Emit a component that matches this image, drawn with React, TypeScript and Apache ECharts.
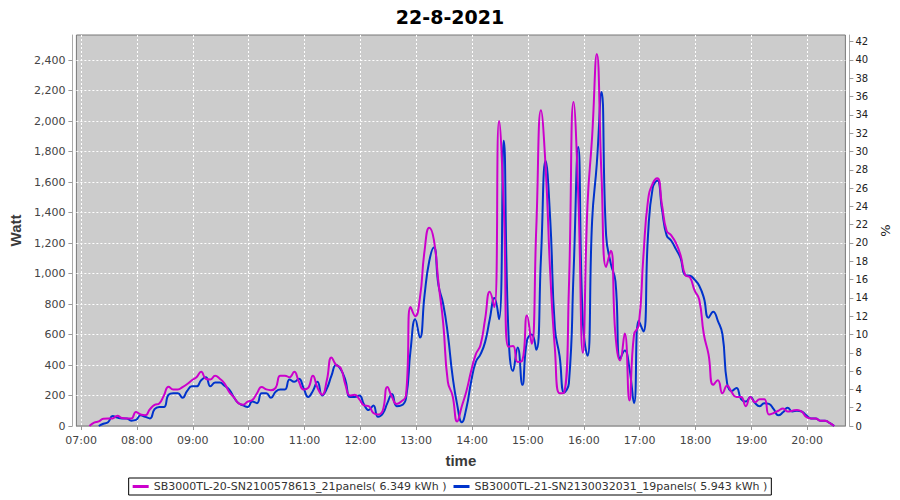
import React, { useEffect, useRef } from "react";
import * as echarts from "echarts";

// Sampling: one reading every 5 minutes, first reading at 07:09
const SAMPLE_START_MIN = 7 * 60 + 9;
const SAMPLE_STEP_MIN = 5;

const SERIES_A_NAME = "SB3000TL-20-SN2100578613_21panels( 6.349 kWh )";
const SERIES_B_NAME = "SB3000TL-21-SN2130032031_19panels( 5.943 kWh )";

// Watt, magenta inverter (rows = hours; 07 row starts 07:09, others start hh:04)
const MAGENTA_W = [
  0, 22, 30, 48, 50, 50, 68, 52, 50, 50, 92,
  75, 70, 110, 138, 148, 200, 258, 240, 240, 255, 275, 300,
  320, 355, 310, 305, 330, 310, 280, 225, 190, 150, 140, 160,
  170, 215, 255, 240, 235, 250, 330, 330, 320, 355, 290, 240,
  250, 330, 250, 205, 300, 450, 400, 380, 270, 200, 205, 175,
  135, 130, 85, 75, 100, 255, 190, 145, 160, 200, 780, 720,
  840, 1150, 1300, 1220, 935, 675, 290, 200, 30, 130, 230, 360,
  470, 530, 700, 880, 780, 2000, 1450, 520, 525, 420, 430, 725,
  540, 1300, 2070, 1700, 1000, 505, 215, 220, 900, 2125, 1530, 480,
  1450, 1900, 2440, 1650, 1043, 1150, 600, 430, 606, 168, 600, 660,
  1110, 1480, 1590, 1625, 1450, 1280, 1250, 1200, 1120, 990, 975, 890,
  830, 600, 470, 270, 300, 215, 265, 220, 190, 190, 130, 190,
  155, 175, 175, 75, 85, 100, 115, 95, 100, 105, 95, 60,
  50, 50, 35, 35, 20, 0,
];

// Watt, blue inverter
const BLUE_W = [
  null, null, 0, 15, 25, 65, 55, 50, 50, 35, 40,
  70, 60, 50, 110, 125, 125, 205, 215, 215, 185, 230, 260,
  260, 300, 320, 260, 285, 285, 265, 240, 190, 150, 135, 125,
  160, 150, 215, 215, 185, 225, 240, 240, 305, 290, 310, 250,
  190, 230, 290, 200, 245, 330, 400, 370, 300, 190, 190, 200,
  140, 105, 135, 60, 80, 150, 210, 130, 135, 180, 500, 700,
  580, 860, 1080, 1170, 920, 800, 600, 330, 140, 25, 120, 290,
  420, 470, 550, 700, 840, 700, 1870, 625, 360, 515, 270, 560,
  600, 500, 1100, 1740, 1350, 640, 460, 220, 280, 1000, 1830, 680,
  460, 1350, 1720, 2190, 1250, 1065, 950, 440, 495, 380, 150, 690,
  620, 1250, 1560, 1610, 1420, 1250, 1215, 1160, 1100, 990, 985, 960,
  920, 840, 710, 750, 690, 600, 280, 230, 250, 175, 160, 190,
  150, 130, 150, 145, 110, 70, 90, 120, 95, 100, 95, 70,
  50, 50, 35, 35, 20, 0,
];

// Tick values
const X_TICKS_MIN = [420, 480, 540, 600, 660, 720, 780, 840, 900, 960, 1020, 1080, 1140, 1200];
const WATT_TICKS = [0, 200, 400, 600, 800, 1000, 1200, 1400, 1600, 1800, 2000, 2200, 2400];
const PCT_TICKS = [0, 2, 4, 6, 8, 10, 12, 14, 16, 18, 20, 22, 24, 26, 28, 30, 32, 34, 36, 38, 40, 42];

const X_MIN = 415;
const X_MAX = 1241;
const WATT_MAX = 2564;
const PCT_MAX = 42.73;

const FONT = "DejaVu Sans";

function toPairs(vals: (number | null)[]) {
  return vals.map((v, i) => [SAMPLE_START_MIN + i * SAMPLE_STEP_MIN, v]);
}

function fmtTime(v: number) {
  const h = Math.floor(v / 60);
  const m = Math.round(v - h * 60);
  return String(h).padStart(2, "0") + ":" + String(m).padStart(2, "0");
}

export default function App() {
  const ref = useRef<HTMLDivElement>(null);
  useEffect(() => {
    if (!ref.current) return;
    const chart = echarts.init(ref.current, null, { renderer: "svg" });
    const gridLine = { show: true, lineStyle: { color: "#ffffff", type: [2, 2], width: 1 } };
    chart.setOption({
      animation: false,
      backgroundColor: "#ffffff",
      title: {
        text: "22-8-2021",
        left: "center",
        top: 2,
        textStyle: { fontFamily: FONT, fontSize: 19, fontWeight: "bold", color: "#000" },
      },
      grid: {
        left: 75,
        top: 35,
        width: 772,
        height: 391,
        show: true,
        backgroundColor: "#cccccc",
        borderColor: "#777777",
        borderWidth: 1,
      },
      legend: {
        data: [SERIES_A_NAME, SERIES_B_NAME],
        left: "center",
        top: 478,
        padding: [3, 4, 3, 4],
        itemGap: 7,
        itemWidth: 16,
        itemHeight: 3,
        icon: "rect",
        borderColor: "#000",
        borderWidth: 1,
        backgroundColor: "#fff",
        textStyle: { fontFamily: FONT, fontSize: 11, color: "#333" },
      },
      xAxis: {
        type: "value",
        min: X_MIN,
        max: X_MAX,
        offset: 4,
        name: "time",
        nameLocation: "middle",
        nameGap: 23,
        nameTextStyle: { fontFamily: "Liberation Sans", fontSize: 15, fontWeight: "bold", color: "#3a3a3a" },
        axisLine: { show: true, lineStyle: { color: "#aaaaaa" } },
        axisTick: { show: true, length: 4, customValues: X_TICKS_MIN, lineStyle: { color: "#999" } },
        axisLabel: {
          customValues: X_TICKS_MIN,
          formatter: (v: number) => fmtTime(v),
          fontFamily: FONT,
          fontSize: 11,
          color: "#444",
          margin: 5,
        },
        splitLine: gridLine,
      },
      yAxis: [
        {
          type: "value",
          min: 0,
          max: WATT_MAX,
          interval: 200,
          position: "left",
          offset: 4,
          name: "Watt",
          nameLocation: "middle",
          nameGap: 44,
          nameTextStyle: { fontFamily: "Liberation Sans", fontSize: 15, fontWeight: "bold", color: "#3a3a3a" },
          axisLine: { show: true, lineStyle: { color: "#aaaaaa" } },
          axisTick: { show: true, length: 4, customValues: WATT_TICKS, lineStyle: { color: "#999" } },
          axisLabel: {
            customValues: WATT_TICKS,
            formatter: (v: number) => v.toLocaleString("en-US"),
            fontFamily: FONT,
            fontSize: 11,
            color: "#444",
            margin: 7,
          },
          splitLine: gridLine,
        },
        {
          type: "value",
          min: 0,
          max: PCT_MAX,
          interval: 2,
          position: "right",
          offset: 4,
          name: "%",
          nameLocation: "middle",
          nameGap: 27,
          nameTextStyle: { fontFamily: FONT, fontSize: 13, color: "#222" },
          axisLine: { show: true, lineStyle: { color: "#aaaaaa" } },
          axisTick: { show: true, length: 4, customValues: PCT_TICKS, lineStyle: { color: "#999" } },
          axisLabel: {
            customValues: PCT_TICKS,
            fontFamily: FONT,
            fontSize: 10,
            color: "#222",
            margin: 6,
          },
          splitLine: { show: false },
        },
      ],
      series: [
        {
          name: SERIES_B_NAME,
          type: "line",
          data: toPairs(BLUE_W),
          smooth: 0.5,
          showSymbol: false,
          color: "#0033cc",
          lineStyle: { width: 2, color: "#0033cc" },
          z: 2,
        },
        {
          name: SERIES_A_NAME,
          type: "line",
          data: toPairs(MAGENTA_W),
          smooth: 0.5,
          showSymbol: false,
          color: "#cc00cc",
          lineStyle: { width: 2, color: "#cc00cc" },
          z: 3,
        },
      ],
    });
    return () => chart.dispose();
  }, []);
  return <div ref={ref} style={{ width: 900, height: 500, position: "absolute", left: 0, top: 0 }} />;
}
